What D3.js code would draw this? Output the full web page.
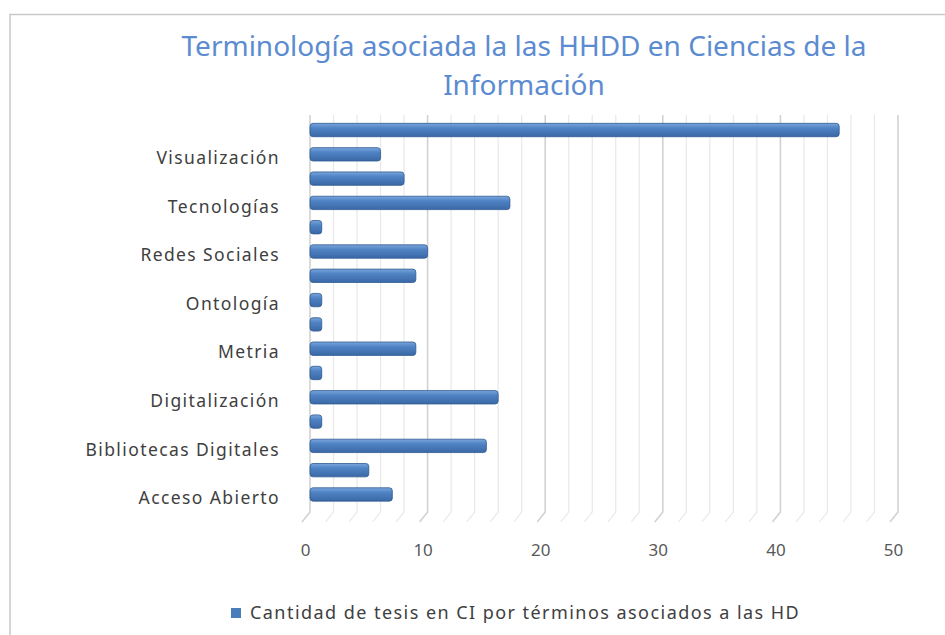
<!DOCTYPE html>
<html>
<head>
<meta charset="utf-8">
<script src="https://cdn.jsdelivr.net/npm/d3@7"></script>
<style>
  body { margin: 0; background: #fff; }
  svg { display: block; font-family: "Noto Sans", "Open Sans", sans-serif; }
</style>
</head>
<body>
<div id="chart"></div>
<script>
// categories from bottom to top; Excel only printed every other label
const categories = ["Acceso Abierto", "", "Bibliotecas Digitales", "", "Digitalización", "",
    "Metria", "", "Ontología", "", "Redes Sociales", "", "Tecnologías", "", "Visualización", ""];
const values = [7, 5, 15, 1, 16, 1, 9, 1, 1, 9, 10, 1, 17, 8, 6, 45];
const xTicks = [0, 10, 20, 30, 40, 50];
const titleLines = ["Terminología asociada la las HHDD en Ciencias de la", "Información"];
const seriesName = "Cantidad de tesis en CI por términos asociados a las HD";

const width = 945, height = 635;
const blue = "#4a7ebb";

const svg = d3.select("#chart").append("svg")
    .attr("width", width)
    .attr("height", height);

// gradient for the bevelled bars
const defs = svg.append("defs");
const grad = defs.append("linearGradient")
    .attr("id", "barGrad")
    .attr("x1", 0).attr("y1", 0).attr("x2", 0).attr("y2", 1);
grad.append("stop").attr("offset", "0%").attr("stop-color", "#7aa6dc");
grad.append("stop").attr("offset", "35%").attr("stop-color", "#4f83c4");
grad.append("stop").attr("offset", "100%").attr("stop-color", "#3b68a6");

// chart frame (only top and left edges are visible in the picture)
svg.append("path")
    .attr("d", "M10,1000 V14.5 H1000")
    .attr("fill", "none")
    .attr("stroke", "#c9c9c9")
    .attr("stroke-width", 1.5);

// title
svg.append("text")
    .attr("text-anchor", "middle")
    .attr("fill", "#5b8bd0")
    .style("font-size", "28px")
    .selectAll("tspan")
    .data(titleLines)
    .enter()
    .append("tspan")
    .attr("x", 524)
    .attr("y", (d, i) => 56 + i * 39)
    .text(d => d);

// scales
const x = d3.scaleLinear()
    .domain([0, 50])
    .range([310, 898]);

const y = d3.scaleBand()
    .domain(d3.range(categories.length))
    .range([506.5, 118])
    .paddingInner(0.45)
    .paddingOuter(0.22);

const wallTop = 115, wallBottom = 512, depth = 8;

// back wall gridlines with the little floor diagonal
const grid = d3.range(0, 51, 2);
svg.append("g")
    .selectAll("path")
    .data(grid)
    .enter()
    .append("path")
    .attr("d", d => `M${x(d)},${wallTop} V${wallBottom} L${x(d) - depth},${wallBottom + 10}`)
    .attr("fill", "none")
    .attr("stroke", d => d % 10 === 0 ? "#d2d2d2" : "#e8e8e8")
    .attr("stroke-width", d => d % 10 === 0 ? 1.6 : 1.2);

// bars
svg.append("g")
    .selectAll("rect")
    .data(values)
    .enter()
    .append("rect")
    .attr("x", x(0))
    .attr("y", (d, i) => y(i))
    .attr("width", d => x(d) - x(0))
    .attr("height", y.bandwidth())
    .attr("rx", 3)
    .attr("fill", "url(#barGrad)")
    .attr("stroke", "#2f5a92")
    .attr("stroke-width", 0.8);

// category axis
const yAxis = svg.append("g")
    .attr("transform", "translate(283,0)")
    .call(d3.axisLeft(y).tickSize(0).tickFormat(i => categories[i]));
yAxis.select(".domain").remove();
yAxis.selectAll("text")
    .attr("dy", "0.55em")
    .attr("fill", "#404040")
    .style("font-size", "17.5px")
    .style("letter-spacing", "1.4px")
    .style("font-family", "\"Noto Sans\", sans-serif");

// value axis (labels sit on the front edge of the floor)
const xFront = x.copy().range([x.range()[0] - depth + 3, x.range()[1] - depth + 3]);
const xAxis = svg.append("g")
    .attr("transform", "translate(0,541)")
    .call(d3.axisBottom(xFront).tickValues(xTicks).tickSize(0).tickFormat(d3.format("d")));
xAxis.select(".domain").remove();
xAxis.selectAll("text")
    .attr("fill", "#595959")
    .style("font-size", "17px")
    .style("font-family", "\"Noto Sans\", sans-serif");

// legend
const legend = svg.append("g").attr("transform", "translate(231,608)");
legend.append("rect")
    .attr("width", 10)
    .attr("height", 10)
    .attr("fill", blue);
legend.append("text")
    .attr("x", 19)
    .attr("y", 5)
    .attr("dy", "0.36em")
    .attr("fill", "#404040")
    .style("font-size", "18px")
    .style("letter-spacing", "1.45px")
    .text(seriesName);
</script>
</body>
</html>
